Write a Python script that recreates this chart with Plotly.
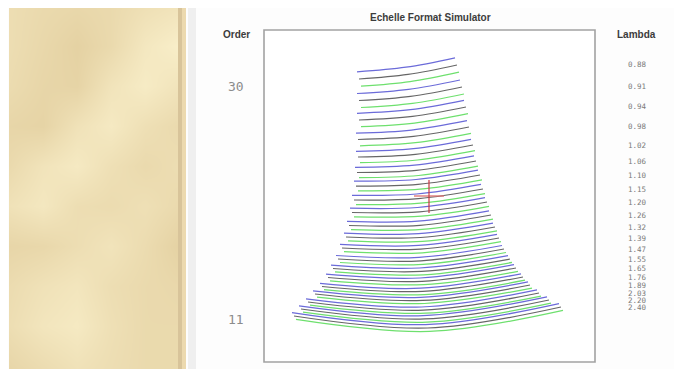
import plotly.graph_objects as go

# the page places the figure 8 px from the window's top-left corner
OFF = 8
W, H = 682 - OFF, 369 - OFF

# ---------------- data (detector coordinates, px within the detector frame; y grows downward)
orders = [30, 29, 28, 27, 26, 25, 24, 23, 22, 21, 20, 19, 18, 17, 16, 15, 14, 13, 12, 11]
lambda_labels = ["0.88", "0.91", "0.94", "0.98", "1.02", "1.06", "1.10", "1.15", "1.20", "1.26",
                 "1.32", "1.39", "1.47", "1.55", "1.65", "1.76", "1.89", "2.03", "2.20", "2.40"]
# centre-slit (black) trace of every order: left end, middle, right end
x_left = [95, 95, 95, 94, 94, 93, 92, 90, 88, 85, 82, 78, 74, 69, 64, 58, 51, 44, 37, 30]
x_right = [193, 198, 202, 205, 209, 212, 216, 219, 223, 227, 231, 235, 240, 246, 252, 259, 266, 275, 285, 297]
y_left = [49, 70.5, 90, 109.5, 127, 142.5, 156, 170, 182.5, 195.5, 207, 218, 229, 238.5, 247.5, 256.5, 264, 272, 279, 286]
y_mid = [44.4, 66.4, 86.4, 106.4, 124.3, 140.3, 154.3, 168.6, 181.8, 195.3, 207.5, 219.1, 230.8, 241.4, 251.3, 261.4, 270.4, 280.1, 288.9, 298]
y_right = [35, 57, 77, 97, 115, 131, 145, 159, 172, 185, 197, 208, 219, 229, 238, 247, 255, 263, 270, 277]
# separation of the slit-end traces (blue above, green below) from the centre trace
slit_dy = [7.2, 7.0, 6.7, 6.3, 5.7, 5.2, 4.8, 4.6, 4.3, 4.1, 3.9, 3.7, 3.5, 3.4, 3.3, 3.2, 3.1, 3.1, 3.2, 3.4]
slit_dx = 2.0
labelled_orders = [30, 11]

# cursor cross
cross_x = 165
cross_y = 166.5
cross_half_w = 15
cross_half_h = 16.5

# decorative beige panel texture (brightness 0..1)
tex_x = [9, 43, 77, 111, 145, 179]
tex_y = [6, 46, 86, 126, 166, 206, 246, 286, 326, 369]
tex_z = [
    [0.55, 0.45, 0.40, 0.45, 0.60, 0.70],
    [0.55, 0.40, 0.25, 0.45, 0.80, 0.98],
    [0.50, 0.35, 0.30, 0.70, 0.90, 0.70],
    [0.35, 0.30, 0.65, 0.85, 0.60, 0.45],
    [0.45, 0.70, 0.85, 0.60, 0.45, 0.55],
    [0.65, 0.80, 0.55, 0.50, 0.60, 0.45],
    [0.35, 0.40, 0.55, 0.70, 0.50, 0.25],
    [0.50, 0.65, 0.75, 0.55, 0.45, 0.40],
    [0.55, 0.75, 0.85, 0.60, 0.45, 0.45],
    [0.35, 0.50, 0.65, 0.55, 0.45, 0.45],
]

# ---------------- figure
BLUE, BLACK, GREEN = "#6b6bd9", "#666666", "#6ee06e"
fig = go.Figure()

for i, m in enumerate(orders):
    xl, xr = x_left[i], x_right[i]
    xm = (xl + xr) / 2
    ys = [y_left[i], y_mid[i], y_right[i]]
    d = slit_dy[i]
    for k, col in ((-1, BLUE), (0, BLACK), (1, GREEN)):
        fig.add_trace(go.Scatter(
            x=[xl + k * slit_dx, xm + k * slit_dx, xr + k * slit_dx],
            y=[v + k * d for v in ys],
            mode="lines", line=dict(color=col, width=1.25, shape="spline"),
            hoverinfo="skip", showlegend=False, xaxis="x", yaxis="y"))

fig.add_trace(go.Scatter(x=[cross_x - cross_half_w, cross_x + cross_half_w], y=[cross_y - 0.5, cross_y - 0.5],
                         mode="lines", line=dict(color="#dc6e6e", width=1.3),
                         hoverinfo="skip", showlegend=False))
fig.add_trace(go.Scatter(x=[cross_x, cross_x], y=[cross_y - cross_half_h, cross_y + cross_half_h],
                         mode="lines", line=dict(color="#c83a42", width=1.2),
                         hoverinfo="skip", showlegend=False))

fig.add_trace(go.Heatmap(x=tex_x, y=tex_y, z=tex_z, zsmooth="best", showscale=False,
                         colorscale=[[0, "rgb(222,200,150)"], [1, "rgb(249,239,202)"]],
                         zmin=0, zmax=1, hoverinfo="skip", xaxis="x2", yaxis="y2"))


def px(xp):
    return (xp - OFF) / W


def py(yp):
    return 1 - (yp - OFF) / H


def label(text, x, y, yref, size, color, family):
    return dict(text=text, x=x, y=y, xref="paper", yref=yref, showarrow=False,
                xanchor="center", yanchor="middle",
                font=dict(family=family, size=size, color=color))


annotations = [
    label("<b>Echelle Format Simulator</b>", px(430), py(18), "paper", 10, "#3c3c3c", "Liberation Sans"),
    label("<b>Order</b>", px(236), py(35), "paper", 10, "#3c3c3c", "Liberation Sans"),
    label("<b>Lambda</b>", px(636), py(35), "paper", 10, "#3c3c3c", "Liberation Sans"),
]
for m in labelled_orders:
    i = orders.index(m)
    annotations.append(label(str(m), px(236), y_left[i] + slit_dy[i], "y", 13, "#8c8c8c", "DejaVu Sans Mono"))
for i, lab in enumerate(lambda_labels):
    annotations.append(label(lab, px(637), y_right[i], "y", 7.5, "#7a7a7a", "DejaVu Sans Mono"))

shapes = [
    dict(type="rect", xref="paper", yref="paper", x0=px(178), x1=px(182), y0=py(369), y1=1,
         fillcolor="#d8c49a", line=dict(width=0), layer="below"),
    dict(type="rect", xref="paper", yref="paper", x0=px(182), x1=px(186), y0=py(369), y1=1,
         fillcolor="#ecd9ae", line=dict(width=0), layer="below"),
    dict(type="rect", xref="paper", yref="paper", x0=px(188), x1=px(196), y0=py(369), y1=1,
         fillcolor="#efefef", line=dict(width=0), layer="below"),
    dict(type="rect", xref="x domain", yref="y domain", x0=0, x1=1, y0=0, y1=1,
         line=dict(color="#a2a2a2", width=1.6), fillcolor="rgba(0,0,0,0)"),
]

fig.update_layout(
    width=W, height=H, autosize=False,
    margin=dict(l=0, r=0, t=0, b=0, pad=0),
    paper_bgcolor="#fdfdfd", plot_bgcolor="#ffffff",
    showlegend=False,
    xaxis=dict(domain=[px(264), px(595)], range=[0, 331], visible=False, fixedrange=True),
    yaxis=dict(domain=[py(362), py(30)], range=[332, 0], visible=False, fixedrange=True),
    xaxis2=dict(domain=[px(9), px(178)], range=[9, 178], visible=False, anchor="y2"),
    yaxis2=dict(domain=[py(369), 1], range=[369, 8], visible=False, anchor="x2"),
    annotations=annotations, shapes=shapes,
)

fig.write_html("out.html")
